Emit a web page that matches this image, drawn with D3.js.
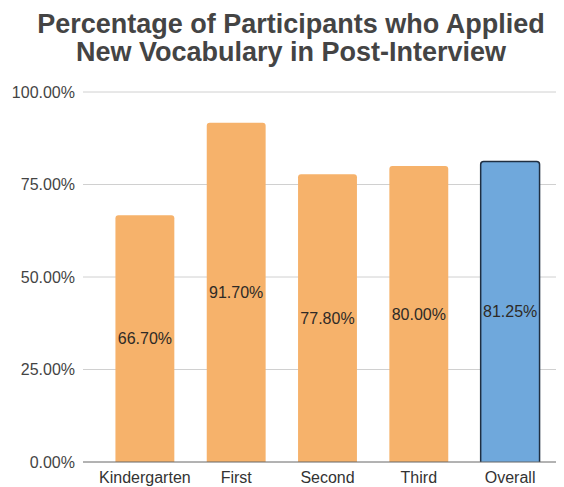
<!DOCTYPE html>
<html>
<head>
<meta charset="utf-8">
<script src="https://cdn.jsdelivr.net/npm/d3@7/dist/d3.min.js"></script>
<style>
  html, body { margin: 0; padding: 0; background: #fff; }
  svg { display: block; }
</style>
</head>
<body>
<svg id="chart" width="564" height="487"></svg>
<script>
// Share of participants applying new vocabulary, by grade
const categories = ["Kindergarten", "First", "Second", "Third", "Overall"];
const values = [66.70, 91.70, 77.80, 80.00, 81.25];
const highlighted = ["Overall"];
const yTicks = [0, 25, 50, 75, 100];
const titleLines = ["Percentage of Participants who Applied", "New Vocabulary in Post-Interview"];

const svg = d3.select("#chart");
const plot = { left: 83, right: 556, top: 92, bottom: 462 };

const x = d3.scaleBand()
  .domain(categories)
  .range([99, 556])
  .paddingInner(0.355)
  .paddingOuter(0.18);

const y = d3.scaleLinear().domain([0, 100]).range([plot.bottom, plot.top]);

const font = "Arial, 'Liberation Sans', sans-serif";
const pct = d => d3.format(".2f")(d) + "%";

// Title
svg.append("g")
  .selectAll("text")
  .data(titleLines)
  .join("text")
  .attr("x", 291)
  .attr("y", (d, i) => 33 + i * 28)
  .attr("text-anchor", "middle")
  .attr("font-family", font)
  .attr("font-weight", "bold")
  .attr("font-size", 27)
  .attr("fill", "#444")
  .text(d => d);

// Gridlines
svg.append("g")
  .selectAll("line")
  .data(yTicks.filter(t => t > 0))
  .join("line")
  .attr("x1", plot.left).attr("x2", plot.right)
  .attr("y1", d => y(d)).attr("y2", d => y(d))
  .attr("stroke", "#d0d0d0")
  .attr("stroke-width", 1);

// Y axis labels
const yAxis = d3.axisLeft(y).tickValues(yTicks).tickSize(0).tickPadding(0).tickFormat(pct);
const gy = svg.append("g").attr("transform", "translate(75,0)").call(yAxis);
gy.select(".domain").remove();
gy.selectAll("text")
  .attr("font-family", font)
  .attr("font-size", 16)
  .attr("fill", "#444");

// Bars
const isHi = d => highlighted.includes(d);
const r = 3;
const rows = categories.map((c, i) => ({ c, v: values[i] }));
svg.append("g")
  .selectAll("path")
  .data(rows)
  .join("path")
  .attr("d", d => {
    const x0 = x(d.c), x1 = x0 + x.bandwidth();
    const yt = y(d.v), yb = y(0);
    const p = d3.path();
    p.moveTo(x0, yb);
    p.lineTo(x0, yt + r);
    p.quadraticCurveTo(x0, yt, x0 + r, yt);
    p.lineTo(x1 - r, yt);
    p.quadraticCurveTo(x1, yt, x1, yt + r);
    p.lineTo(x1, yb);
    return p.toString();
  })
  .attr("fill", d => isHi(d.c) ? "#6fa8dc" : "#f6b26b")
  .attr("stroke", d => isHi(d.c) ? "#1f2f42" : "none")
  .attr("stroke-width", 1.5);

// Value labels
svg.append("g")
  .selectAll("text")
  .data(rows)
  .join("text")
  .attr("x", d => x(d.c) + x.bandwidth() / 2)
  .attr("y", d => (y(d.v) + y(0)) / 2)
  .attr("dy", "0.35em")
  .attr("text-anchor", "middle")
  .attr("font-family", font)
  .attr("font-size", 16)
  .attr("fill", "#2e2a26")
  .text(d => pct(d.v));

// Baseline
svg.append("line")
  .attr("x1", plot.left).attr("x2", plot.right)
  .attr("y1", y(0)).attr("y2", y(0))
  .attr("stroke", "#666")
  .attr("stroke-width", 1);

// X axis labels
const xAxis = d3.axisBottom(x).tickSize(0).tickPadding(0);
const gx = svg.append("g").attr("transform", `translate(0,${y(0) + 21})`).call(xAxis);
gx.select(".domain").remove();
gx.selectAll("text")
  .attr("dy", "0")
  .attr("font-family", font)
  .attr("font-size", 16)
  .attr("fill", "#333");
</script>
</body>
</html>
